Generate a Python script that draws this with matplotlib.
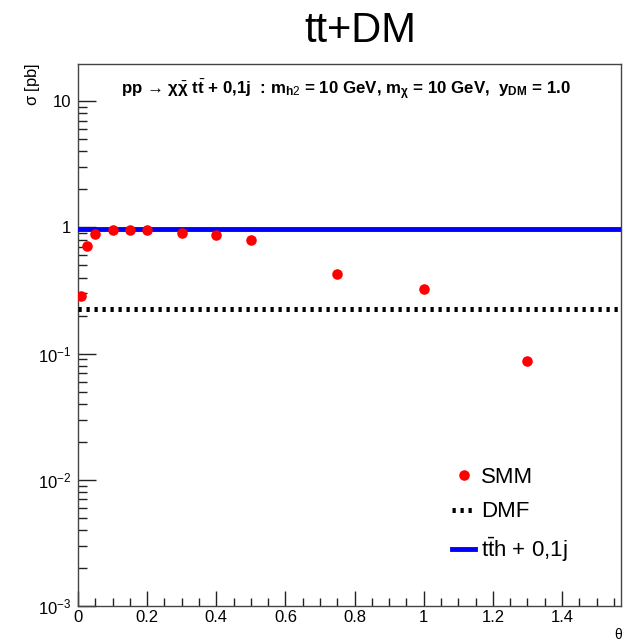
import matplotlib
matplotlib.use("Agg")
import matplotlib.pyplot as plt
from matplotlib.lines import Line2D
from matplotlib.ticker import FixedLocator, MultipleLocator, NullFormatter
import numpy as np

plt.rcParams['font.family'] = ['Liberation Sans', 'DejaVu Sans']
plt.rcParams['mathtext.fontset'] = 'custom'
plt.rcParams['mathtext.rm'] = 'Liberation Sans'
plt.rcParams['mathtext.it'] = 'Liberation Sans:bold'
plt.rcParams['mathtext.bf'] = 'Liberation Sans:bold'

# ---- data ----
theta = [0.01, 0.025, 0.05, 0.1, 0.15, 0.2, 0.3, 0.4, 0.5, 0.75, 1.0, 1.3]
smm_xsec = [0.287, 0.714, 0.888, 0.955, 0.96, 0.95, 0.91, 0.868, 0.80, 0.426, 0.322, 0.0877]
dmf_xsec = 0.225
tth_xsec = 0.978
x_ticks = [0, 0.2, 0.4, 0.6, 0.8, 1.0, 1.2, 1.4]
x_tick_labels = ["0", "0.2", "0.4", "0.6", "0.8", "1", "1.2", "1.4"]
y_ticks = [1e-3, 1e-2, 1e-1, 1, 10]
y_tick_labels = [r"$\mathregular{10^{-3}}$", r"$\mathregular{10^{-2}}$", r"$\mathregular{10^{-1}}$", "1", "10"]
legend_labels = ["SMM", "DMF", r"t$\mathregular{\bar{t}}$h + 0,1j"]

W, H = 630, 643
fig = plt.figure(figsize=(W / 100, H / 100), dpi=100)
L, R, T, B = 78, 621, 64, 606
ax = fig.add_axes([L / W, 1 - B / H, (R - L) / W, (B - T) / H])

xmin, xmax = 0, np.pi / 2
ax.set_xlim(xmin, xmax)
ax.set_yscale('log')
ax.set_ylim(1e-3, 19.7)

ax.plot(theta, smm_xsec, 'o', color='#ff0000', markersize=7.6, markeredgewidth=0, zorder=5)
ax.plot([xmin, xmax], [dmf_xsec, dmf_xsec], color='black', linewidth=3.6,
        dashes=(0.65, 0.95), dash_capstyle='butt', zorder=3)
ax.plot([xmin, xmax], [tth_xsec, tth_xsec], color='#0000ff', linewidth=3.5, zorder=4)

# ticks
ax.xaxis.set_major_locator(FixedLocator(x_ticks))
ax.set_xticklabels(x_tick_labels)
ax.xaxis.set_minor_locator(MultipleLocator(0.05))
ax.yaxis.set_major_locator(FixedLocator(y_ticks))
ax.set_yticklabels(y_tick_labels)
minors = [m * 10.0 ** e for e in range(-3, 2) for m in range(2, 10)]
ax.yaxis.set_minor_locator(FixedLocator(minors))
ax.yaxis.set_minor_formatter(NullFormatter())
ax.tick_params(axis='both', which='both', direction='in', top=False, right=False,
               labelsize=12, color='#222222')
ax.tick_params(axis='y', which='major', length=13, width=1.0, pad=5)
ax.tick_params(axis='y', which='minor', length=6.5, width=1.0)
ax.tick_params(axis='x', which='major', length=11, width=1.0, pad=3)
ax.tick_params(axis='x', which='minor', length=6, width=1.0)
for s in ax.spines.values():
    s.set_linewidth(1.0)
    s.set_color('#444444')

# texts
fig.text(360 / W, 1 - 42 / H, "tt+DM", fontsize=30, ha='center', va='baseline')
fig.text(346 / W, 1 - 94 / H,
         "pp \u2192 \u03c7$\\bar{\\chi}$ t$\\bar{t}$ + 0,1j  : m$_{h2}$ = 10 GeV, m$_{\\chi}$ = 10 GeV,  y$_{DM}$ = 1.0",
         fontsize=12.2, fontweight='bold', ha='center', va='baseline')
fig.text(33 / W, 1 - 63 / H, r"$\mathregular{\sigma}$ [pb]", fontsize=12, rotation=90,
         ha='center', va='top')
fig.text(619 / W, 1 - 642 / H, r"$\mathregular{\theta}$", fontsize=10, ha='center', va='bottom')

handles = [
    Line2D([], [], marker='o', linestyle='none', color='#ff0000', markersize=7.6, markeredgewidth=0),
    Line2D([], [], color='black', linewidth=3.6, dashes=(0.65, 0.95), dash_capstyle='butt'),
    Line2D([], [], color='#0000ff', linewidth=3.5),
]
leg = ax.legend(handles, legend_labels, loc='upper left',
                bbox_to_anchor=(452 / W, 1 - 467 / H), bbox_transform=fig.transFigure,
                frameon=False, fontsize=16, handlelength=1.05, handletextpad=0.25,
                labelspacing=0.6, borderpad=0, borderaxespad=0)

fig.savefig("out.png", dpi=100)
